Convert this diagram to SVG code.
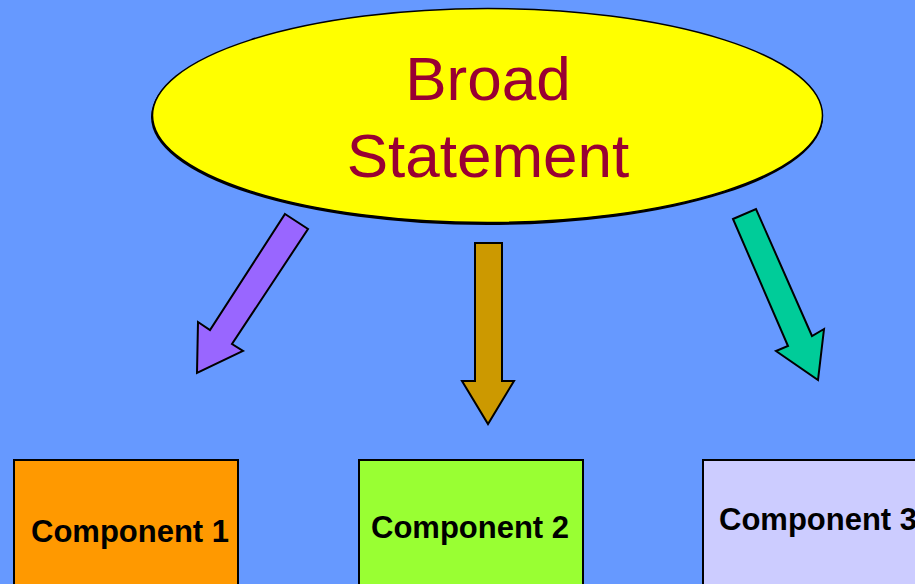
<svg xmlns="http://www.w3.org/2000/svg" width="915" height="584" viewBox="0 0 915 584">
  <style>
    .outline { stroke: #000000; stroke-width: 2; stroke-linejoin: miter; }
    .title { font-family: "Liberation Sans", Arial, sans-serif; font-size: 62px; fill: #990033; text-anchor: middle; }
    .label { font-family: "Liberation Sans", Arial, sans-serif; font-size: 31px; font-weight: bold; fill: #000000; }
  </style>
  <rect x="0" y="0" width="915" height="584" fill="#6699FF"/>

  <g id="broad-statement">
    <ellipse cx="487" cy="117" rx="336" ry="108" fill="#000000"/>
    <ellipse cx="487.5" cy="115.5" rx="335" ry="107" fill="#FFFF00" stroke="#000000" stroke-width="1.5"/>
    <text class="title" x="488" y="100">Broad</text>
    <text class="title" x="488" y="177">Statement</text>
  </g>

  <g id="connectors">
    <polygon class="outline" fill="#9966FF" points="285,214 308,229 232,344 243,351 197,373 198,322 210,330"/>
    <polygon class="outline" fill="#CC9900" points="475,243 502,243 502,381 514,381 488,424 462,381 475,381"/>
    <polygon class="outline" fill="#00CC99" points="733,219 756,209 812,336 824,329 818,380 776,351 788,346"/>
  </g>

  <g id="component-1">
    <rect class="outline" x="14" y="460" width="224" height="140" fill="#FF9900"/>
    <text class="label" x="31" y="542">Component 1</text>
  </g>

  <g id="component-2">
    <rect class="outline" x="359" y="460" width="224" height="140" fill="#99FF33"/>
    <text class="label" x="371" y="538">Component 2</text>
  </g>

  <g id="component-3">
    <rect class="outline" x="703" y="460" width="240" height="140" fill="#CCCCFF"/>
    <text class="label" x="719" y="530">Component 3</text>
  </g>
</svg>
